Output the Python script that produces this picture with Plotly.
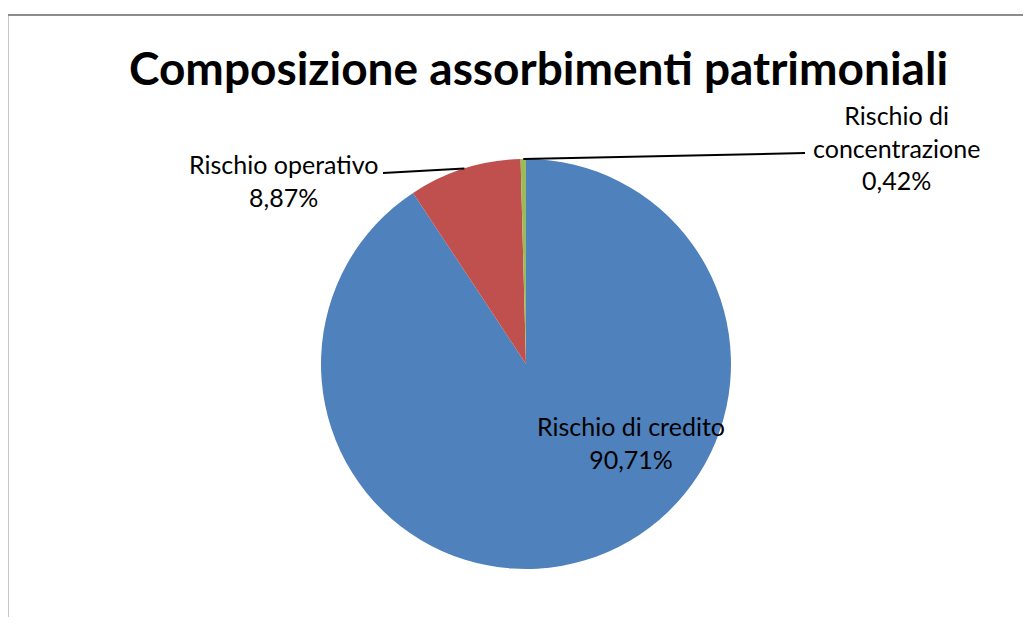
import math
import plotly.graph_objects as go

# ---- data ----
categories = ["Rischio di credito", "Rischio operativo", "Rischio di concentrazione"]
values = [90.71, 8.87, 0.42]
label_texts = ["Rischio di credito", "Rischio operativo", "Rischio di<br>concentrazione"]
colors = ["#4F81BD", "#C0504D", "#9BBB59"]
title_text = "Composizione assorbimenti patrimoniali"

OFF = 8  # page body margin of the plot in the browser
W, H = 1031 - 2 * OFF, 625 - 2 * OFF
cx, cy, R = 526, 364, 205  # pie geometry in screen pixels

def px(x):
    return (x - OFF) / W

def py(y):
    return 1 - (y - OFF) / H

def fmt(v):
    return f"{v:.2f}".replace(".", ",") + "%"

fig = go.Figure(go.Pie(
    labels=categories,
    values=values,
    marker=dict(colors=colors, line=dict(width=0)),
    sort=False,
    direction="clockwise",
    rotation=0,
    textinfo="none",
    hoverinfo="label+percent",
    showlegend=False,
    domain=dict(x=[px(cx - R), px(cx + R)], y=[py(cy + R), py(cy - R)]),
))

# mid angles of slices (clockwise from 12 o'clock)
total = sum(values)
mids = []
acc = 0
for v in values:
    mids.append((acc + v / 2) / total * 2 * math.pi)
    acc += v

def edge(a):
    return cx + R * math.sin(a), cy - R * math.cos(a)

FAM = "Lato, Calibri, sans-serif"
font = dict(family=FAM, size=25, color="#000000")
annotations = []
shapes = []

def label(x, y, text):
    annotations.append(dict(x=px(x), y=py(y), xref="paper", yref="paper",
                            xanchor="center", yanchor="middle",
                            text=text, showarrow=False, font=font, align="center"))

label(631, 442, f"{label_texts[0]}<br>{fmt(values[0])}")
label(283, 180, f"{label_texts[1]}<br>{fmt(values[1])}")
label(896, 147, f"{label_texts[2]}<br>{fmt(values[2])}")

ex, ey = edge(mids[1])
shapes.append(dict(type="line", xref="paper", yref="paper", x0=px(383), y0=py(173),
                   x1=px(ex), y1=py(ey), line=dict(color="black", width=2)))
ex, ey = edge(mids[2])
shapes.append(dict(type="line", xref="paper", yref="paper", x0=px(ex), y0=py(ey),
                   x1=px(805), y1=py(153), line=dict(color="black", width=2)))

# chart frame (left and top edges visible)
shapes.append(dict(type="line", xref="paper", yref="paper", x0=px(7.5), y0=py(15),
                   x1=px(7.5), y1=py(700), line=dict(color="#8C8C8C", width=2)))
shapes.append(dict(type="line", xref="paper", yref="paper", x0=px(7.5), y0=py(15),
                   x1=px(1100), y1=py(15), line=dict(color="#8C8C8C", width=2)))

# title
annotations.append(dict(x=px(538), y=py(68), xref="paper", yref="paper",
                        xanchor="center", yanchor="middle",
                        text=f"<b>{title_text}</b>", showarrow=False,
                        font=dict(family=FAM, size=46, color="#000000")))

fig.update_layout(
    width=W, height=H,
    margin=dict(l=0, r=0, t=0, b=0),
    paper_bgcolor="white", plot_bgcolor="white",
    annotations=annotations, shapes=shapes,
)

fig.write_html("out.html")
